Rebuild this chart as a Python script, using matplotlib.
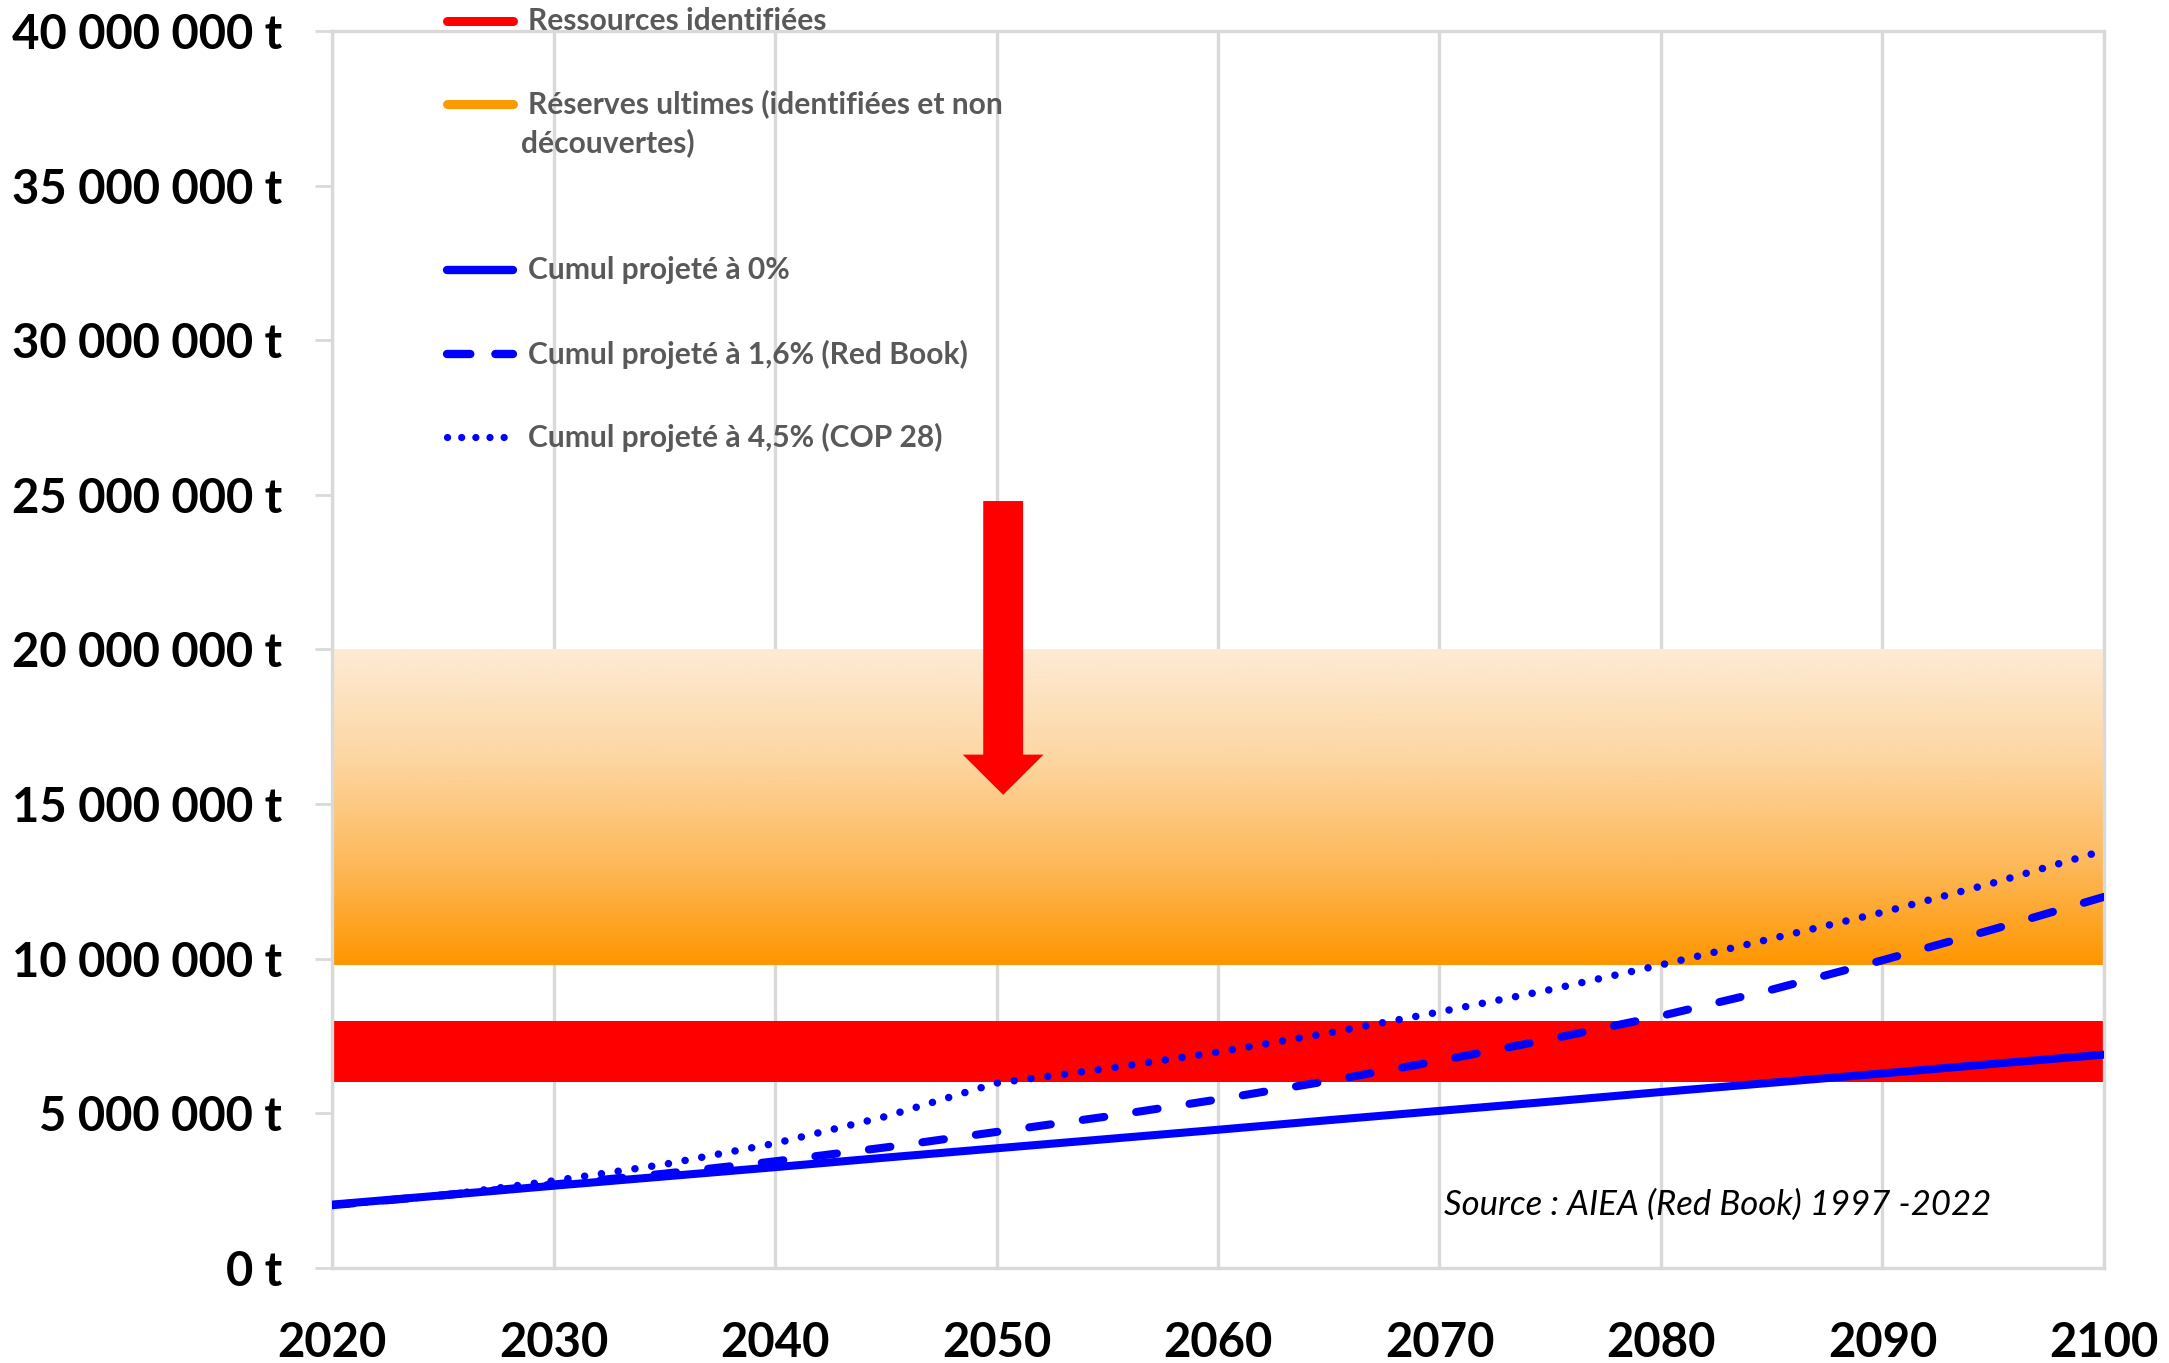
import numpy as np
import matplotlib.pyplot as plt
from matplotlib.lines import Line2D
from matplotlib.colors import LinearSegmentedColormap
from matplotlib.ticker import FuncFormatter, MultipleLocator

plt.rcParams["font.family"] = ["Lato", "DejaVu Sans"]

# cumulative uranium demand (t), projected from 2020
years = [2020, 2025, 2030, 2035, 2040, 2045, 2050, 2055, 2060,
         2065, 2070, 2075, 2080, 2085, 2090, 2095, 2100]
cumul_0 = [2.05e6, 2.35e6, 2.66e6, 2.96e6, 3.26e6, 3.57e6, 3.87e6, 4.17e6, 4.47e6,
           4.78e6, 5.08e6, 5.38e6, 5.69e6, 5.99e6, 6.29e6, 6.60e6, 6.90e6]
cumul_16 = [2.03e6, 2.35e6, 2.70e6, 3.05e6, 3.45e6, 3.90e6, 4.40e6, 4.90e6, 5.45e6,
            6.05e6, 6.70e6, 7.40e6, 8.15e6, 9.00e6, 9.95e6, 10.95e6, 12.0e6]
cumul_45 = [2.03e6, 2.35e6, 2.82e6, 3.35e6, 4.03e6, 4.90e6, 5.98e6, 6.45e6, 6.98e6,
            7.60e6, 8.28e6, 9.00e6, 9.80e6, 10.65e6, 11.50e6, 12.45e6, 13.50e6]

# resource ranges (t)
identified = (6.0e6, 8.0e6)
ultimate = (9.8e6, 20.0e6)

grey = "#D9D9D9"
text_grey = "#595959"
blue = "#0000FF"

fig = plt.figure(figsize=(21.69, 13.63), dpi=100)
ax = fig.add_axes([0.1531, 0.0697, 0.8169, 0.9076])

# ultimate reserves: vertical gradient, pale at the top, orange at the bottom
cmap = LinearSegmentedColormap.from_list(
    "ult", ["#FF9600", "#FDBA5E", "#FDD7A4", "#FDEBD5"])
grad = np.linspace(0, 1, 256).reshape(-1, 1)
ax.imshow(grad, cmap=cmap, aspect="auto", origin="lower",
          extent=(2020, 2100, ultimate[0], ultimate[1]), zorder=1)

# identified resources
ax.axhspan(identified[0], identified[1], color="#FF0000", lw=0, zorder=1)

ax.plot(years, cumul_0, color=blue, lw=5.8, solid_capstyle="round", zorder=3)
ax.plot(years, cumul_16, color=blue, lw=5.8, dashes=(2.7, 4.0),
        dash_capstyle="round", zorder=3)
ax.plot(years, cumul_45, color=blue, lw=5.4, dashes=(0.01, 2.25),
        dash_capstyle="round", zorder=3)

# downward arrow
ax.arrow(2050.3, 24.8e6, 0, -9.5e6, width=1.8, head_width=3.65,
         head_length=1.3e6, length_includes_head=True,
         color="#FF0000", lw=0, zorder=4)

ax.text(2070.2, 2.05e6, "Source : AIEA (Red Book) 1997 -2022",
        fontsize=25, style="italic", color="black", va="center", ha="left")

ax.set_xlim(2020, 2100)
ax.set_ylim(0, 40e6)
ax.xaxis.set_major_locator(MultipleLocator(10))
ax.yaxis.set_major_locator(MultipleLocator(5e6))
ax.yaxis.set_major_formatter(FuncFormatter(
    lambda v, p: "{:,.0f} t".format(v).replace(",", " ")))

ax.set_axisbelow(True)
ax.grid(axis="x", color=grey, lw=2.4)
ax.grid(axis="y", visible=False)
for s in ax.spines.values():
    s.set_color(grey)
    s.set_linewidth(2.4)

ax.tick_params(axis="x", length=0, pad=38, labelsize=34)
ax.tick_params(axis="y", length=12, width=2, color=grey, pad=24, labelsize=34)
for lab in ax.get_xticklabels() + ax.get_yticklabels():
    lab.set_fontweight("bold")

# legend drawn by hand, in figure pixels
W, H = 2169, 1363
def fx(px): return px / W
def fy(py): return 1 - py / H

entries = [
    (21, dict(color="#FF0000", lw=6.5, solid_capstyle="round"), "Ressources identifiées"),
    (104, dict(color="#FF9900", lw=6.5, solid_capstyle="round"), "Réserves ultimes (identifiées et non"),
    (270, dict(color=blue, lw=6, solid_capstyle="round"), "Cumul projeté à 0%"),
    (354, dict(color=blue, lw=6, dashes=(2.8, 3.0), dash_capstyle="round"), "Cumul projeté à 1,6% (Red Book)"),
    (437, dict(color=blue, lw=5.2, dashes=(0.01, 1.95), dash_capstyle="round"), "Cumul projeté à 4,5% (COP 28)"),
]
for y, style, label in entries:
    fig.add_artist(Line2D([fx(447), fx(513)], [fy(y), fy(y)],
                          transform=fig.transFigure, **style))
    fig.text(fx(528), fy(y), label, fontsize=21.6, fontweight="bold",
             color=text_grey, va="center", ha="left")
fig.text(fx(521), fy(143), "découvertes)", fontsize=21.6, fontweight="bold",
         color=text_grey, va="center", ha="left")

plt.savefig("out.png", dpi=100)
